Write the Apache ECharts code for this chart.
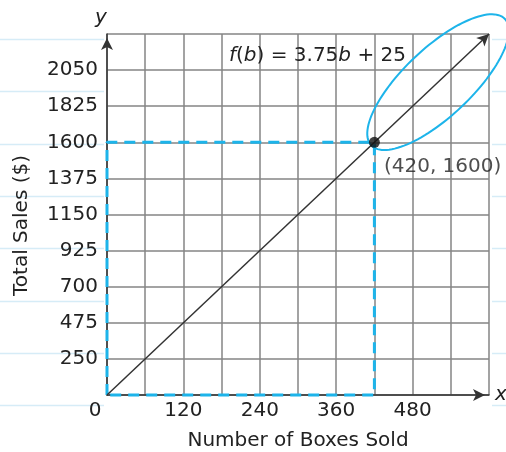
<!DOCTYPE html>
<html><head><meta charset="utf-8">
<script src="https://cdn.jsdelivr.net/npm/echarts@6/dist/echarts.min.js"></script>
<style>html,body{margin:0;padding:0;background:#fff}#c{width:506px;height:452px}</style>
</head><body><div id="c"></div>
<script>
// ---- data ----
const xMin = 0, xMax = 600, xStep = 60, xLabelStep = 120;
const yMin = 25, yMax = 2275, yStep = 225;
const lineEnds = [[0, 25], [600, 2275]];          // f(b) = 3.75b + 25
const solution = [420, 1600];
const ellipseAxis = [415, 1581, 625, 2369];       // major-axis ends on the line
const equation = '{i|f}({i|b}) = 3.75{i|b} + 25';
const xTitle = 'Number of Boxes Sold';
const yTitle = 'Total Sales ($)';

const FONT = 'DejaVu Sans';
const FS = 20;
const TXT = '#222';
const CYAN = '#1db4ea';

const chart = echarts.init(document.getElementById('c'), null, {renderer: 'canvas'});

// notebook paper lines (decoration)
const paper = [];
for (let k = 0; k < 8; k++) {
  const y = Math.round(39 + 52.3 * k) + 0.5;
  paper.push({type: 'line', shape: {x1: 0, y1: y, x2: 104, y2: y}, style: {stroke: '#d6ecf7', lineWidth: 1.5}, z: -10});
  paper.push({type: 'line', shape: {x1: 492, y1: y, x2: 506, y2: y}, style: {stroke: '#d6ecf7', lineWidth: 1.5}, z: -10});
}

const rect = [[0, yMin], [0, solution[1]], [solution[0], solution[1]], [solution[0], yMin], [0, yMin]];

chart.setOption({
  animation: false,
  backgroundColor: '#fff',
  graphic: paper,
  title: {
    text: equation, left: 224, top: 41,
    textStyle: {fontFamily: FONT, fontSize: FS, fontWeight: 'normal', color: TXT,
      rich: {i: {fontFamily: FONT, fontSize: FS, fontStyle: 'italic', color: TXT}}}
  },
  grid: {left: 107, right: 17, top: 34, bottom: 57, outerBoundsMode: 'none', containLabel: false},
  xAxis: [{
    type: 'value', min: xMin, max: xMax, interval: xStep,
    name: 'x', nameLocation: 'end', nameGap: 6,
    nameTextStyle: {fontFamily: FONT, fontSize: FS, fontStyle: 'italic', color: TXT, verticalAlign: 'middle', padding: [4, 0, 0, 0]},
    axisLine: {lineStyle: {color: '#333', width: 1.5}, symbol: ['none', 'arrow'], symbolSize: [9, 12], symbolOffset: [0, -4]},
    axisTick: {show: false},
    axisLabel: {fontFamily: FONT, fontSize: FS, color: TXT, margin: 6,
      formatter: v => v === xMin ? '{z|0}' : ((v < xMax && v % xLabelStep === 0) ? String(v) : ''),
      rich: {z: {fontFamily: FONT, fontSize: FS, color: TXT, padding: [0, 24, 0, 0]}}},
    splitLine: {lineStyle: {color: '#858585', width: 1.5}}
  }, {
    type: 'value', min: xMin, max: xMax, position: 'bottom',
    name: xTitle, nameLocation: 'middle', nameGap: 36,
    nameTextStyle: {fontFamily: FONT, fontSize: FS, color: TXT},
    axisLine: {show: false}, axisTick: {show: false}, axisLabel: {show: false}, splitLine: {show: false}
  }],
  yAxis: [{
    type: 'value', min: yMin, max: yMax, interval: yStep,
    name: 'y', nameLocation: 'end', nameGap: 6,
    nameTextStyle: {fontFamily: FONT, fontSize: FS, fontStyle: 'italic', color: TXT, padding: [0, 12, 0, 0]},
    axisLine: {lineStyle: {color: '#333', width: 1.5}, symbol: ['none', 'arrow'], symbolSize: [9, 12], symbolOffset: [0, -4]},
    axisTick: {show: false},
    axisLabel: {fontFamily: FONT, fontSize: FS, color: TXT, margin: 9,
      formatter: v => (v <= yMin || v >= yMax) ? '' : String(v)},
    splitLine: {lineStyle: {color: '#858585', width: 1.5}}
  }, {
    type: 'value', min: yMin, max: yMax, position: 'left',
    name: yTitle, nameLocation: 'middle', nameGap: 75, nameRotate: 90,
    nameTextStyle: {fontFamily: FONT, fontSize: FS, color: TXT, padding: [0, 22, 0, 0]},
    axisLine: {show: false}, axisTick: {show: false}, axisLabel: {show: false}, splitLine: {show: false}
  }],
  series: [{
    type: 'line', data: [], silent: true,
    markLine: {
      silent: true, symbol: ['none', 'arrow'], symbolSize: [9, 12],
      label: {show: false},
      lineStyle: {color: '#333', width: 1.5, type: 'solid'},
      data: [[{coord: lineEnds[0]}, {coord: lineEnds[1]}]]
    }
  }, {
    type: 'line', data: rect, clip: false, symbol: 'none', z: 3,
    lineStyle: {color: CYAN, width: 3, type: [11, 7]}
  }, {
    type: 'custom', clip: false, z: 4,
    data: [ellipseAxis],
    renderItem: function (params, api) {
      const p1 = api.coord([api.value(0), api.value(1)]);
      const p2 = api.coord([api.value(2), api.value(3)]);
      const cx = (p1[0] + p2[0]) / 2, cy = (p1[1] + p2[1]) / 2;
      const dx = p2[0] - p1[0], dy = p2[1] - p1[1];
      const a = Math.sqrt(dx * dx + dy * dy) / 2, b = 34;
      const ux = dx / (2 * a), uy = dy / (2 * a), vx = -uy, vy = ux;
      const pts = [];
      for (let i = 0; i < 120; i++) {
        const t = i / 120 * Math.PI * 2;
        pts.push([cx + a * Math.cos(t) * ux + b * Math.sin(t) * vx,
                  cy + a * Math.cos(t) * uy + b * Math.sin(t) * vy]);
      }
      return {type: 'polygon', shape: {points: pts}, style: {fill: 'none', stroke: CYAN, lineWidth: 2}};
    }
  }, {
    type: 'scatter', data: [solution], symbolSize: 11, z: 5,
    itemStyle: {color: '#111'},
    label: {show: true, position: 'right', distance: 4, offset: [0, 24], fontFamily: FONT, fontSize: FS, color: TXT,
      formatter: p => '(' + p.value[0] + ', ' + p.value[1] + ')'}
  }]
});
</script></body></html>
